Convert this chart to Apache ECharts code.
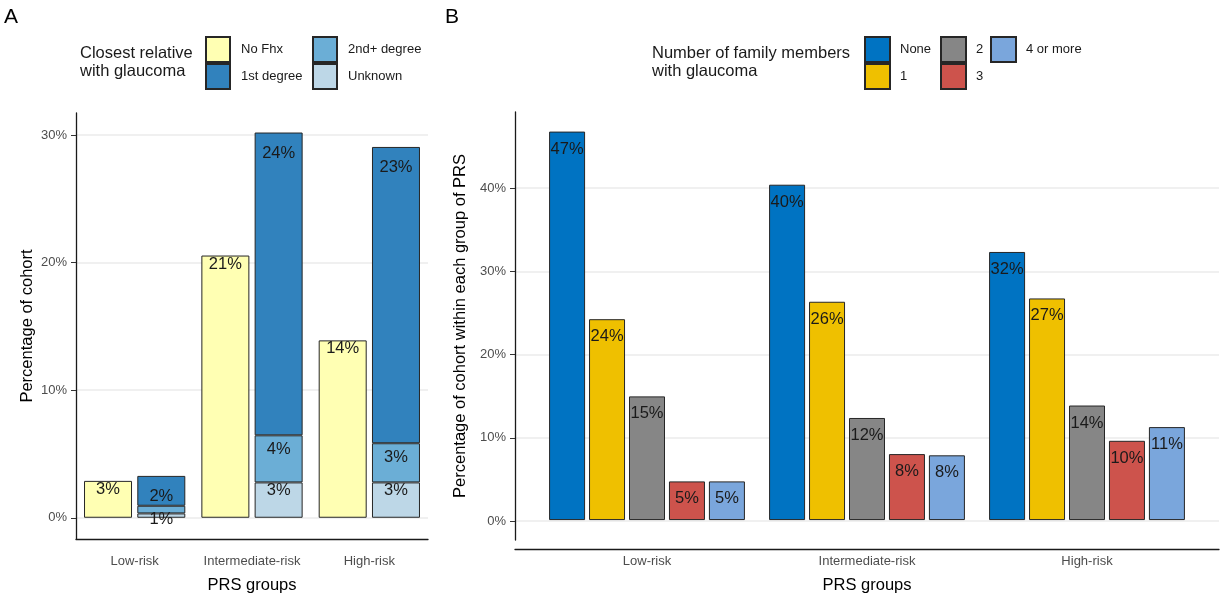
<!DOCTYPE html>
<html>
<head>
<meta charset="utf-8">
<script src="https://cdn.jsdelivr.net/npm/echarts@6/dist/echarts.min.js"></script>
<style>
html,body{margin:0;padding:0;background:#fff;}
#chart{width:1225px;height:599px;}
</style>
</head>
<body>
<div id="chart"></div>
<script>
// ---- data ----
const categories = ['Low-risk', 'Intermediate-risk', 'High-risk'];
// Panel A: closest relative with glaucoma (% of cohort)
const aNoFhx   = [2.89, 20.55, 13.9];
const aFirst   = [2.34, 23.73, 23.22];
const aSecond  = [0.6, 3.69, 3.07];
const aUnknown = [0.34, 2.77, 2.77];
// Panel B: number of family members with glaucoma (% within PRS group)
const bNone  = [46.8, 40.4, 32.3];
const bOne   = [24.2, 26.3, 26.7];
const bTwo   = [14.9, 12.3, 13.8];
const bThree = [4.66, 7.95, 9.55];
const bFour  = [4.66, 7.8, 11.2];
const yTicksA = [0, 10, 20, 30];
const yTicksB = [0, 10, 20, 30, 40];

const FONT = 'Liberation Sans, Arial, Helvetica, sans-serif';
const pct = v => v + '%';
const barLabel = (dist) => ({
  show: true, position: 'insideTop', distance: dist,
  fontFamily: FONT, fontSize: 16.5, color: '#1a1a1a',
  formatter: p => { const r = Math.round(p.value); return r === 0 ? '' : r + '%'; }
});
const border = { borderColor: '#262626', borderWidth: 1 };

const yAxisCommon = (ticks) => ({
  type: 'value',
  axisLine: { show: true, onZero: false, lineStyle: { color: '#1a1a1a', width: 1.3 } },
  axisTick: { show: true, length: 5, customValues: ticks, lineStyle: { color: '#333' } },
  axisLabel: { customValues: ticks, formatter: pct, margin: 9, color: '#4d4d4d', fontFamily: FONT, fontSize: 13 },
  splitLine: { show: true, lineStyle: { color: '#ebebeb', width: 1.5 } },
  nameLocation: 'middle',
  nameTextStyle: { color: '#000', fontFamily: FONT, fontSize: 16.5 }
});
const legendText = (pad) => ({ fontFamily: FONT, fontSize: 13, color: '#1a1a1a', padding: [0, 0, 0, pad] });

const chart = echarts.init(document.getElementById('chart'), null, { renderer: 'canvas' });
chart.setOption({
  animation: false,
  backgroundColor: '#ffffff',
  title: [
    { text: 'A', left: 4, top: 7, padding: 0, textStyle: { fontFamily: FONT, fontSize: 21, fontWeight: 'normal', color: '#000' } },
    { text: 'B', left: 445, top: 7, padding: 0, textStyle: { fontFamily: FONT, fontSize: 21, fontWeight: 'normal', color: '#000' } },
    { text: 'Closest relative\nwith glaucoma', left: 80, top: 44, padding: 0,
      textStyle: { fontFamily: FONT, fontSize: 16.5, lineHeight: 18.5, fontWeight: 'normal', color: '#1a1a1a' } },
    { text: 'Number of family members\nwith glaucoma', left: 652, top: 44, padding: 0,
      textStyle: { fontFamily: FONT, fontSize: 16.5, lineHeight: 18.5, fontWeight: 'normal', color: '#1a1a1a' } }
  ],
  legend: [
    { data: ['No Fhx', '1st degree'], icon: 'rect', orient: 'vertical', left: 205, top: 36, padding: 0, itemGap: 0, itemWidth: 24, itemHeight: 25,
      textStyle: legendText(6) },
    { data: ['2nd+ degree', 'Unknown'], icon: 'rect', orient: 'vertical', left: 312, top: 36, padding: 0, itemGap: 0, itemWidth: 24, itemHeight: 25,
      textStyle: legendText(6) },
    { data: ['None', '1'], icon: 'rect', orient: 'vertical', left: 864, top: 36, padding: 0, itemGap: 0, itemWidth: 25, itemHeight: 25,
      textStyle: legendText(5) },
    { data: ['2', '3'], icon: 'rect', orient: 'vertical', left: 940, top: 36, padding: 0, itemGap: 0, itemWidth: 25, itemHeight: 25,
      textStyle: legendText(5) },
    { data: ['4 or more'], icon: 'rect', orient: 'vertical', left: 990, top: 36, padding: 0, itemGap: 0, itemWidth: 25, itemHeight: 25,
      textStyle: legendText(5) }
  ],
  grid: [
    { left: 76, right: 797, top: 113, bottom: 59 },   // A
    { left: 515, right: 6, top: 112, bottom: 59 },    // B frame
    { left: 537, right: 28, top: 112, bottom: 59 }    // B bars
  ],
  xAxis: [
    { type: 'category', gridIndex: 0, data: categories,
      axisLine: { show: true, onZero: false, lineStyle: { color: '#1a1a1a', width: 1.3 } },
      axisTick: { show: false },
      axisLabel: { interval: 0, margin: 16, color: '#4d4d4d', fontFamily: FONT, fontSize: 13 },
      name: 'PRS groups', nameLocation: 'middle', nameGap: 38,
      nameTextStyle: { color: '#000', fontFamily: FONT, fontSize: 16.5 } },
    { type: 'value', gridIndex: 1, min: 0, max: 1, offset: 9,
      axisLine: { show: true, onZero: false, lineStyle: { color: '#1a1a1a', width: 1.3 } },
      axisTick: { show: false }, axisLabel: { show: false }, splitLine: { show: false } },
    { type: 'category', gridIndex: 2, data: categories,
      axisLine: { show: false }, axisTick: { show: false },
      axisLabel: { interval: 0, margin: 16, color: '#4d4d4d', fontFamily: FONT, fontSize: 13 },
      name: 'PRS groups', nameLocation: 'middle', nameGap: 38,
      nameTextStyle: { color: '#000', fontFamily: FONT, fontSize: 16.5 } }
  ],
  yAxis: [
    Object.assign(yAxisCommon(yTicksA), { gridIndex: 0, min: -1.665, max: 31.72, name: 'Percentage of cohort', nameGap: 40 }),
    Object.assign(yAxisCommon(yTicksB), { gridIndex: 1, min: -2.28, max: 49.16, name: 'Percentage of cohort within each group of PRS', nameGap: 39 }),
    { type: 'value', gridIndex: 2, min: -2.28, max: 49.16, show: false, splitLine: { show: false } }
  ],
  series: [
    { name: 'No Fhx', type: 'bar', xAxisIndex: 0, yAxisIndex: 0, data: aNoFhx, barWidth: 48, barGap: '11%',
      itemStyle: Object.assign({ color: '#FFFFB3' }, border), label: barLabel(0) },
    { name: 'Unknown', type: 'bar', stack: 'fam', xAxisIndex: 0, yAxisIndex: 0, data: aUnknown, barWidth: 48, barGap: '11%',
      itemStyle: Object.assign({ color: '#BDD7E7' }, border), label: barLabel(0) },
    { name: '2nd+ degree', type: 'bar', stack: 'fam', xAxisIndex: 0, yAxisIndex: 0, data: aSecond, barWidth: 48, barGap: '11%',
      itemStyle: Object.assign({ color: '#6BAED6' }, border), label: barLabel(5.5) },
    { name: '1st degree', type: 'bar', stack: 'fam', xAxisIndex: 0, yAxisIndex: 0, data: aFirst, barWidth: 48, barGap: '11%',
      itemStyle: Object.assign({ color: '#3182BD' }, border), label: barLabel(12) },

    { name: 'None', type: 'bar', xAxisIndex: 2, yAxisIndex: 2, data: bNone, barWidth: 36, barGap: '11%',
      itemStyle: Object.assign({ color: '#0073C2' }, border), label: barLabel(9) },
    { name: '1', type: 'bar', xAxisIndex: 2, yAxisIndex: 2, data: bOne, barWidth: 36, barGap: '11%',
      itemStyle: Object.assign({ color: '#EFC000' }, border), label: barLabel(9) },
    { name: '2', type: 'bar', xAxisIndex: 2, yAxisIndex: 2, data: bTwo, barWidth: 36, barGap: '11%',
      itemStyle: Object.assign({ color: '#868686' }, border), label: barLabel(9) },
    { name: '3', type: 'bar', xAxisIndex: 2, yAxisIndex: 2, data: bThree, barWidth: 36, barGap: '11%',
      itemStyle: Object.assign({ color: '#CD534C' }, border), label: barLabel(9) },
    { name: '4 or more', type: 'bar', xAxisIndex: 2, yAxisIndex: 2, data: bFour, barWidth: 36, barGap: '11%',
      itemStyle: Object.assign({ color: '#7AA6DC' }, border), label: barLabel(9) }
  ]
});
</script>
</body>
</html>
